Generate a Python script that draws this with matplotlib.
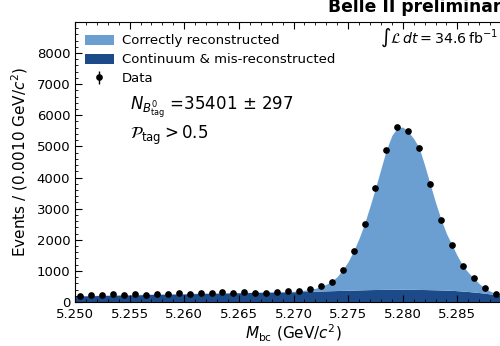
import numpy as np
import matplotlib
matplotlib.use("Agg")
import matplotlib.pyplot as plt
from matplotlib.patches import Patch
from matplotlib.ticker import MultipleLocator, FormatStrFormatter

# Mbc histogram, 1 MeV bins between 5.250 and 5.290 GeV
bin_centers = np.arange(5.2505, 5.2900, 0.001)
counts = np.array([
    190, 240, 235, 250, 230, 245, 225, 255, 270, 280,
    265, 290, 290, 310, 295, 320, 300, 300, 320, 345,
    355, 410, 515, 650, 1040, 1640, 2520, 3660, 4890, 5610,
    5500, 4960, 3790, 2650, 1840, 1165, 770, 445, 270, 130,
])

# fit result: continuum / mis-reconstructed component and total
fit_x = np.array([
    5.2500, 5.2550, 5.2600, 5.2650, 5.2700, 5.2710, 5.2720, 5.2725,
    5.2730, 5.2735, 5.2740, 5.2745, 5.2750, 5.2755, 5.2760, 5.2765,
    5.2770, 5.2775, 5.2780, 5.2785, 5.2790, 5.2795, 5.2800, 5.2805,
    5.2810, 5.2815, 5.2820, 5.2825, 5.2830, 5.2835, 5.2840, 5.2845,
    5.2850, 5.2855, 5.2860, 5.2865, 5.2870, 5.2875, 5.2880, 5.2885,
    5.2890, 5.2895, 5.2900,
])
fit_bkg = np.array([
    195, 230, 265, 300, 330, 340, 350, 355,
    360, 365, 370, 375, 380, 385, 390, 395,
    400, 403, 406, 408, 410, 411, 411, 410,
    408, 405, 402, 398, 394, 388, 382, 375,
    365, 352, 338, 322, 305, 285, 262, 235,
    200, 140, 0,
])
fit_total = np.array([
    200, 240, 275, 305, 345, 380, 440, 500,
    570, 670, 820, 1040, 1300, 1640, 2050, 2520,
    3080, 3660, 4280, 4890, 5350, 5600, 5620, 5480,
    5250, 4960, 4400, 3800, 3200, 2660, 2200, 1840,
    1480, 1170, 950, 770, 590, 450, 350, 270,
    210, 140, 0,
])
x_ticks = [5.250, 5.255, 5.260, 5.265, 5.270, 5.275, 5.280, 5.285]

light_blue = "#6b9fd2"
dark_blue = "#1d4a88"

fig = plt.figure(figsize=(5.0, 3.46), dpi=100)
ax = fig.add_axes([0.15, 0.127, 0.874, 0.808])

ax.fill_between(fit_x, 0, fit_bkg, color=dark_blue, lw=0)
ax.fill_between(fit_x, fit_bkg, fit_total, color=light_blue, lw=0)
data = ax.errorbar(bin_centers, counts, yerr=np.sqrt(counts), fmt="o",
                   color="black", ms=3.8, elinewidth=1.0, capsize=0)

ax.set_xlim(5.25, 5.29)
ax.set_ylim(0, 8980)
ax.set_xticks(x_ticks)
ax.xaxis.set_minor_locator(MultipleLocator(0.001))
ax.xaxis.set_major_formatter(FormatStrFormatter("%.3f"))
ax.yaxis.set_major_locator(MultipleLocator(1000))
ax.yaxis.set_minor_locator(MultipleLocator(200))
ax.tick_params(which="both", direction="in", top=True, right=True, labelsize=9.5)
ax.tick_params(which="major", length=5)
ax.tick_params(which="minor", length=2.5)
ax.tick_params(axis="x", pad=4)

ax.set_xlabel(r"$M_{\rm bc}$ (GeV/$c^2$)", fontsize=11, labelpad=2)
ax.set_ylabel(r"Events / (0.0010 GeV/$c^2$)", fontsize=11, labelpad=5)

handles = [
    Patch(facecolor=light_blue, edgecolor="none"),
    Patch(facecolor=dark_blue, edgecolor="none"),
    data,
]
labels = ["Correctly reconstructed", "Continuum & mis-reconstructed", "Data"]
ax.legend(handles, labels, loc="upper left", frameon=False, fontsize=9.5,
          bbox_to_anchor=(-0.005, 1.0), handlelength=2.2, handleheight=0.8,
          labelspacing=0.45, handletextpad=0.6)

ax.text(0.968, 0.945, r"$\int\mathcal{L}\,dt = 34.6\,\mathrm{fb}^{-1}$",
        transform=ax.transAxes, ha="right", va="center", fontsize=10.2)
ax.text(0.126, 0.698, r"$N_{B^0_{\rm tag}}$ =35401 $\pm$ 297",
        transform=ax.transAxes, ha="left", va="center", fontsize=12)
ax.text(0.126, 0.597, r"$\mathcal{P}_{\rm tag} > 0.5$",
        transform=ax.transAxes, ha="left", va="center", fontsize=12)

fig.text(0.655, 0.966, "Belle II preliminary", fontsize=12.3,
         fontweight="bold", ha="left", va="baseline")

fig.savefig("out.png", dpi=100)
